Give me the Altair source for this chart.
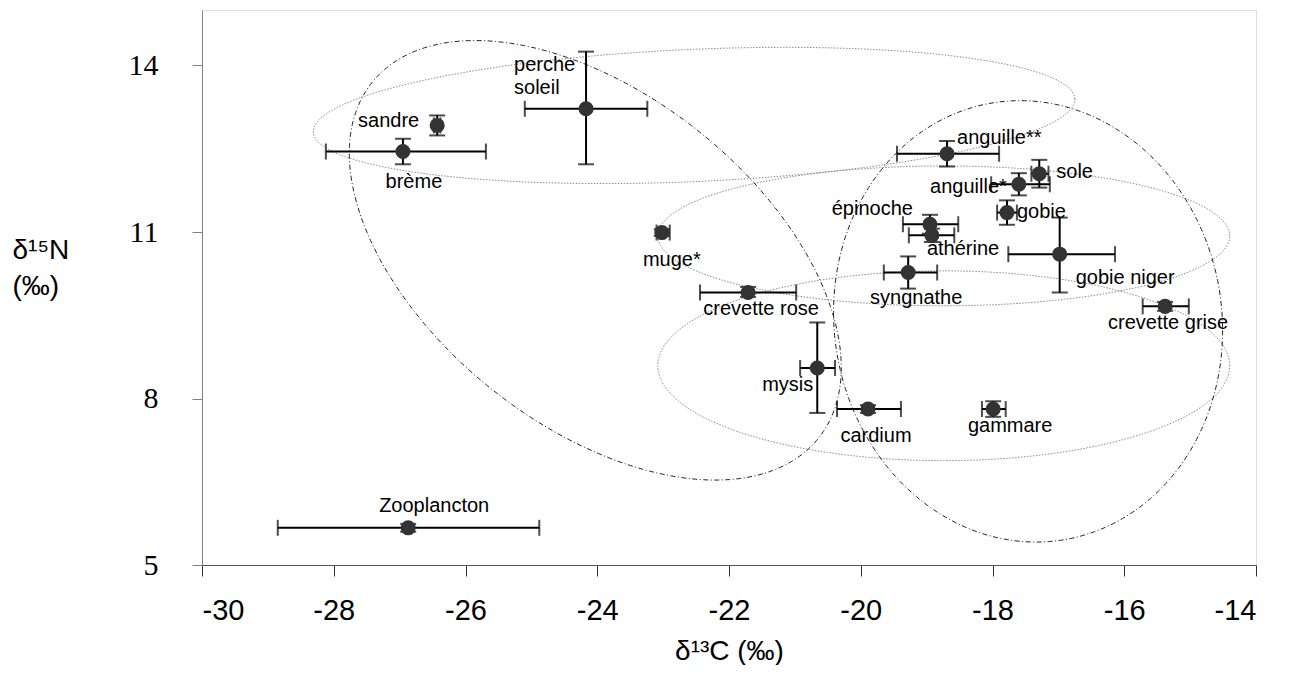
import altair as alt
import numpy as np
import pandas as pd

# ---- data ----
species = ["Zooplancton", "sandre", "brème", "perche\nsoleil", "muge*", "crevette rose",
           "mysis", "cardium", "gammare", "anguille**", "sole", "anguille*", "gobie",
           "épinoche", "athérine", "syngnathe", "gobie niger", "crevette grise"]
d13c = [-26.87, -26.43, -26.95, -24.17, -23.02, -21.71, -20.66, -19.89, -17.99,
        -18.69, -17.29, -17.60, -17.78, -18.95, -18.92, -19.28, -16.98, -15.38]
d13c_lo = [-28.85, -26.48, -28.12, -25.10, -23.10, -22.44, -20.92, -20.36, -18.16,
           -19.45, -17.41, -18.02, -17.93, -19.36, -19.27, -19.65, -17.76, -15.72]
d13c_hi = [-24.88, -26.38, -25.69, -23.24, -22.90, -20.98, -20.39, -19.39, -17.80,
           -17.90, -17.15, -17.13, -17.63, -18.52, -18.58, -18.84, -16.14, -15.02]
d15n = [5.67, 12.92, 12.45, 13.22, 10.99, 9.91, 8.55, 7.81, 7.81,
        12.41, 12.05, 11.86, 11.35, 11.14, 10.94, 10.27, 10.60, 9.66]
d15n_lo = [5.60, 12.74, 12.22, 12.22, 10.93, 9.83, 7.74, 7.74, 7.67,
           12.18, 11.80, 11.66, 11.13, 10.97, 10.82, 9.98, 9.91, 9.58]
d15n_hi = [5.74, 13.10, 12.68, 14.25, 11.05, 10.01, 9.37, 7.88, 7.95,
           12.64, 12.30, 12.06, 11.57, 11.31, 11.06, 10.56, 11.26, 9.74]

x_ticks = [-30, -28, -26, -24, -22, -20, -18, -16, -14]
y_ticks = [5, 8, 11, 14]

# ellipses: centre and two semi-diameter vectors (data units)
ell_name = ["A", "B", "C", "D", "E"]
ell_style = ["dot", "dashdot", "dashdot", "dot", "dot"]
ell_cx = [-22.53, -24.03, -17.46, -18.74, -18.74]
ell_cy = [13.10, 10.49, 9.39, 10.93, 8.59]
ell_ux = [5.78, 3.734, 2.953, 4.34, 4.34]
ell_uy = [0.30, -1.931, -0.164, 0.0, 0.0]
ell_vx = [0.046, 0.0, 0.0, 0.0, 0.0]
ell_vy = [-1.19, -3.457, -3.973, 1.26, 1.71]

# label placement (pixel offsets from the point)
lab_dx = [26, -18, 11, -72, 10, 13, -4, 8, 17, 10, 17, -12, 10, -17, -5, 8, 16, 3]
lab_dy = [-16, 2, 36, -38, 33, 23, 23, 33, 23, -10, 4, 9, 5, -9, 20, 31, 30, 23]
lab_align = ["center", "right", "center", "left", "center", "center", "right", "center",
             "center", "left", "left", "right", "left", "right", "left", "center",
             "left", "center"]

df = pd.DataFrame({"sp": species, "x": d13c, "xlo": d13c_lo, "xhi": d13c_hi,
                   "y": d15n, "ylo": d15n_lo, "yhi": d15n_hi})

t = np.linspace(0, 2 * np.pi, 361)
rows = []
for i, nm in enumerate(ell_name):
    xs = ell_cx[i] + ell_ux[i] * np.cos(t) + ell_vx[i] * np.sin(t)
    ys = ell_cy[i] + ell_uy[i] * np.cos(t) + ell_vy[i] * np.sin(t)
    for k in range(len(t)):
        rows.append({"name": nm, "style": ell_style[i], "k": k, "x": xs[k], "y": ys[k]})
ell = pd.DataFrame(rows)

xscale = alt.Scale(domain=[-30, -14], nice=False, zero=False)
yscale = alt.Scale(domain=[5, 15], nice=False, zero=False)
xaxis = alt.Axis(values=x_ticks, tickSize=11, labelFont="Liberation Sans", labelFontSize=29,
                 labelPadding=20, labelColor="black", domainColor="#555555", tickColor="#333333",
                 labelExpr="'' + datum.value",
                 grid=False, title="δ¹³C (‰)", titleFont="Liberation Sans", titleFontSize=28,
                 titleFontWeight="normal", titlePadding=12, titleColor="black")
yaxis = alt.Axis(values=y_ticks, tickSize=10, labelFont="Liberation Serif", labelFontSize=30,
                 labelPadding=34, labelColor="black", domainColor="#808080", tickColor="#808080",
                 labelExpr="'' + datum.value",
                 grid=False, title=["δ¹⁵N", "(‰)"], titleAngle=0, titleAlign="left",
                 titleX=-190, titleY=248, titleBaseline="alphabetic", titleFont="Liberation Sans",
                 titleFontSize=28, titleFontWeight="normal", titleLineHeight=36, titleColor="black")


def X(f):
    return alt.X(f, type="quantitative", scale=xscale, axis=xaxis)


def Y(f):
    return alt.Y(f, type="quantitative", scale=yscale, axis=yaxis)


base = alt.Chart(df)

ell_dot = alt.Chart(ell).transform_filter(alt.datum.style == "dot").mark_line(
    color="#8a8a8a", strokeWidth=1, strokeDash=[1.5, 1.5]
).encode(x=X("x"), y=Y("y"), detail="name:N", order="k:Q")
ell_dd = alt.Chart(ell).transform_filter(alt.datum.style == "dashdot").mark_line(
    color="#222222", strokeWidth=1, strokeDash=[5, 2.5, 1, 2.5]
).encode(x=X("x"), y=Y("y"), detail="name:N", order="k:Q")

hbar = base.mark_rule(color="black", strokeWidth=2).encode(x=X("xlo"), x2="xhi", y=Y("y"))
vbar = base.mark_rule(color="black", strokeWidth=2).encode(x=X("x"), y=Y("ylo"), y2="yhi")
cap_l = base.mark_tick(color="black", thickness=2, size=16, orient="vertical").encode(x=X("xlo"), y=Y("y"))
cap_r = base.mark_tick(color="black", thickness=2, size=16, orient="vertical").encode(x=X("xhi"), y=Y("y"))
cap_b = base.mark_tick(color="black", thickness=2, size=16, orient="horizontal").encode(x=X("x"), y=Y("ylo"))
cap_t = base.mark_tick(color="black", thickness=2, size=16, orient="horizontal").encode(x=X("x"), y=Y("yhi"))
pts = base.mark_circle(color="#333333", opacity=1, size=227).encode(x=X("x"), y=Y("y"))

labels = []
for i, s in enumerate(species):
    labels.append(
        alt.Chart(df.iloc[[i]]).mark_text(
            font="Liberation Sans", fontSize=20, color="black", align=lab_align[i],
            baseline="alphabetic", dx=lab_dx[i], dy=lab_dy[i], lineBreak="\n", lineHeight=23
        ).encode(x=X("x"), y=Y("y"), text="sp:N")
    )

chart = alt.layer(ell_dot, ell_dd, hbar, vbar, cap_l, cap_r, cap_b, cap_t, pts, *labels).properties(
    width=1054, height=555, autosize=alt.AutoSizeParams(type="none"),
    padding={"left": 194, "top": 2, "right": 20, "bottom": 100}
).configure_view(stroke=None).configure(background="white")

chart.save("out.html", embed_options={"renderer": "svg", "actions": False})
